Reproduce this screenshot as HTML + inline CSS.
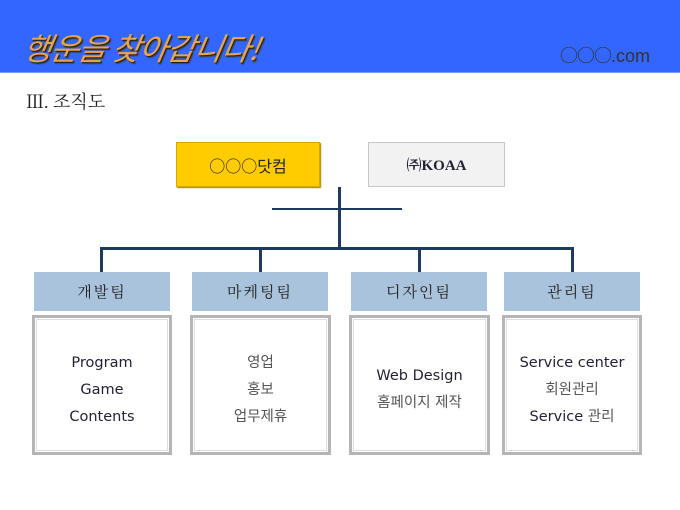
<!DOCTYPE html>
<html><head><meta charset="utf-8"><style>
*{margin:0;padding:0;box-sizing:border-box}
body{width:680px;height:510px;background:#fff;position:relative;overflow:hidden;font-family:"Liberation Sans","Noto Sans CJK KR",sans-serif}
.a{position:absolute}
.hd{left:0;top:0;width:680px;height:73px;background:#3366ff;border-bottom:1px solid #7799ff}
.title{left:24px;top:24px;font-size:31px;font-style:italic;font-weight:normal;color:#e8a550;text-shadow:1px 1px 0 #222,2px 2px 1px #444;font-family:"Noto Sans CJK KR",sans-serif;letter-spacing:-1px;transform:skewX(-10deg)}
.com{left:560px;top:42px;font-size:18px;color:#333;font-family:"Noto Sans CJK KR",sans-serif;letter-spacing:-1px}
.com span{font-family:"Liberation Sans",sans-serif;font-size:18px;letter-spacing:0}
.sec{left:26px;top:88px;font-size:18px;color:#222;font-family:"Liberation Serif","Noto Serif CJK SC",serif}
.ln{background:#1f3a5c}
.bh{background:#a9c3dd;height:39px;top:272px;display:flex;align-items:center;justify-content:center;font-size:15px;color:#222;letter-spacing:2px;font-family:"Noto Serif CJK SC",serif}
.bx{top:315px;height:140px;padding-top:10px;border:3px solid #b5b5b5;outline:1px solid #ddd;outline-offset:-5px;display:flex;flex-direction:column;align-items:center;justify-content:center;font-size:14.5px;color:#223;line-height:27px;font-family:"DejaVu Sans","Noto Sans CJK KR",sans-serif}
.k{color:#555}
</style></head><body>
<div class="a hd"></div>
<div class="a title">행운을 찾아갑니다!</div>
<div class="a com">○○○<span>.com</span></div>
<div class="a sec">Ⅲ. 조직도</div>
<div class="a" style="left:176px;top:142px;width:144px;height:45px;background:#ffcc00;border:1px solid #d9a800;box-shadow:1px 1px 1px #a08000;display:flex;align-items:center;justify-content:center;font-size:16px;font-family:'Noto Sans CJK KR',sans-serif;color:#222">○○○닷컴</div>
<div class="a" style="left:368px;top:142px;width:137px;height:45px;background:#f2f2f2;border:1px solid #c8c8c8;display:flex;align-items:center;justify-content:center;font-size:15px;font-weight:bold;font-family:'Liberation Serif','Noto Serif CJK SC',serif;color:#223">㈜KOAA</div>
<div class="a ln" style="left:338px;top:187px;width:3px;height:62px"></div>
<div class="a ln" style="left:272px;top:208px;width:130px;height:2px"></div>
<div class="a ln" style="left:100px;top:247px;width:474px;height:3px"></div>
<div class="a ln" style="left:100px;top:247px;width:3px;height:25px"></div>
<div class="a ln" style="left:259px;top:247px;width:3px;height:25px"></div>
<div class="a ln" style="left:418px;top:247px;width:3px;height:25px"></div>
<div class="a ln" style="left:571px;top:247px;width:3px;height:25px"></div>
<div class="a bh" style="left:34px;width:136px">개발팀</div>
<div class="a bh" style="left:192px;width:136px">마케팅팀</div>
<div class="a bh" style="left:351px;width:136px">디자인팀</div>
<div class="a bh" style="left:504px;width:136px">관리팀</div>
<div class="a bx" style="left:32px;width:140px"><div>Program</div><div>Game</div><div>Contents</div></div>
<div class="a bx" style="left:190px;width:141px"><div class="k">영업</div><div class="k">홍보</div><div class="k">업무제휴</div></div>
<div class="a bx" style="left:349px;width:141px"><div>Web Design</div><div class="k">홈페이지 제작</div></div>
<div class="a bx" style="left:502px;width:140px"><div>Service center</div><div class="k">회원관리</div><div>Service <span class="k">관리</span></div></div>
</body></html>
